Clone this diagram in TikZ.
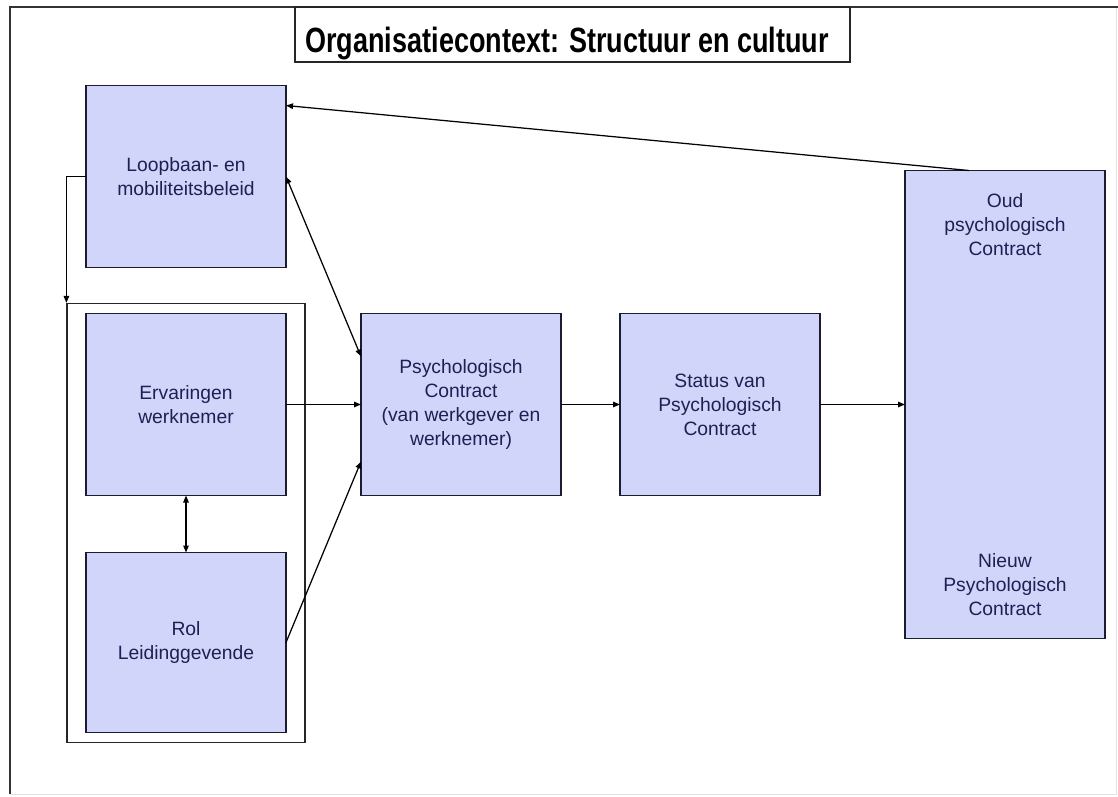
\documentclass[tikz,border=0pt]{standalone}
\usepackage{fontspec}
\setmainfont{Liberation Sans}
\usepackage{graphicx}
\usetikzlibrary{arrows.meta, calc, fit, positioning}
\definecolor{blokfill}{RGB}{209,213,250}
\definecolor{blokdraw}{RGB}{28,28,48}
\definecolor{bloktext}{RGB}{30,32,84}
\definecolor{framegrey}{RGB}{226,226,226}

\begin{document}
\begin{tikzpicture}[
				x=1pt, y=-1pt,
				texts/.style = {text=bloktext, font=\fontsize{19.3}{24}\selectfont, align=center},
				titletexts/.style = {text=black, font=\fontsize{27}{30}\selectfont\bfseries},
				blokline/.style = {draw=blokdraw, line width=1.2pt},
				blok/.style = {texts, rectangle, blokline, fill=blokfill, outer sep=0pt, minimum width=200pt, minimum height=182pt},
				groupline/.style = {draw=black!85, line width=1.2pt},
				arrowline/.style = {draw=black, line width=1.25pt, -{Triangle[length=7pt, width=5.5pt]}},
				twoway/.style = {arrowline, {Triangle[length=7pt, width=5.5pt]}-{Triangle[length=7pt, width=5.5pt]}}
				]
				\useasboundingbox (0,0) rectangle (1118,796);
				\draw[framegrey, line width=1pt] (10,794) -- (1116,794) -- (1116,7);
				\draw[black!80, line width=1.2pt] (1118,7) -| (10,794);
				
				\node[groupline, minimum width=555pt, minimum height=55pt, outer sep=0pt] (title) at (572.5,34.5) {};
				\node[titletexts] (titletext) at (567,43) {\scalebox{1}[1.3]{Organisatiecontext: Structuur en cultuur}};
				
				\node[blok] (erv) at (186,404.5) {Ervaringen\\werknemer};
				\node[blok, minimum height=180pt, below=57pt of erv] (rol) {Rol\\Leidinggevende};
				\node[blok, above=46pt of erv] (loop) {Loopbaan- en\\mobiliteitsbeleid};
				\node[blok, right=75pt of erv] (psy) {Psychologisch\\Contract\\(van werkgever en\\werknemer)};
				\node[blok, right=59pt of psy] (stat) {Status van\\Psychologisch\\Contract};
				\node[blok, minimum height=468pt, right=85pt of stat] (oud) {};
				\node[texts, inner sep=0pt, below=23pt of oud.north] (oudtext) {Oud\\psychologisch\\Contract};
				\node[texts, inner sep=0pt, above=23pt of oud.south] (nieuwtext) {Nieuw\\Psychologisch\\Contract};
				\node[groupline, fit=(erv)(rol), inner xsep=19pt, inner ysep=10pt] (grp) {};
				
				\draw[arrowline] (loop.west) -| (grp.north west);
				\draw[twoway] (loop.east) -- ([yshift=48pt]psy.west);
				\draw[arrowline] (erv.east) -- (psy.west);
				\draw[arrowline] (rol.east) -- ([yshift=-57pt]psy.west);
				\draw[twoway] (erv.south) -- (rol.north);
				\draw[arrowline] (psy.east) -- (stat.west);
				\draw[arrowline] (stat.east) -- (oud.west);
				%\draw[arrowline] (oud.north) -- (loop.east);
				\draw[arrowline] ([xshift=-36pt]oud.north) -- ([yshift=71pt]loop.east);
				\end{tikzpicture}
\end{document}
